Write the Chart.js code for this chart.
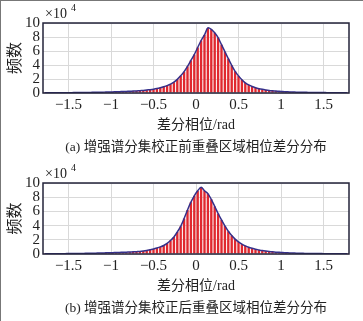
<!DOCTYPE html>
<html>
<head>
<meta charset="utf-8">
<script src="https://cdn.jsdelivr.net/npm/chart.js@4"></script>
<style>
  body { margin: 0; background: #fff; }
  #wrap { position: relative; width: 363px; height: 321px; overflow: hidden; }
  canvas { position: absolute; left: 0; }
  #c1 { top: 0; }
  #c2 { top: 160px; }
  .edge { position: absolute; background: #777; }
</style>
</head>
<body>
<div id="wrap">
  <canvas id="c1" width="363" height="160"></canvas>
  <canvas id="c2" width="363" height="161"></canvas>
  <div class="edge" style="left:0;top:0;width:1px;height:321px"></div>
  <div class="edge" style="left:0;top:0;width:363px;height:1px"></div>
</div>
<script>
// bin centres (rad)
var bins = [
  -1.78,-1.74,-1.70,-1.66,-1.62,-1.58,-1.54,-1.50,-1.46,-1.42,
  -1.38,-1.34,-1.30,-1.26,-1.22,-1.18,-1.14,-1.10,-1.06,-1.02,
  -0.98,-0.94,-0.90,-0.86,-0.82,-0.78,-0.74,-0.70,-0.66,-0.62,
  -0.58,-0.54,-0.50,-0.46,-0.42,-0.38,-0.34,-0.30,-0.26,-0.22,
  -0.18,-0.14,-0.10,-0.06,-0.02,0.02,0.06,0.10,0.14,0.18,
  0.22,0.26,0.30,0.34,0.38,0.42,0.46,0.50,0.54,0.58,
  0.62,0.66,0.70,0.74,0.78,0.82,0.86,0.90,0.94,0.98,
  1.02,1.06,1.10,1.14,1.18,1.22,1.26,1.30,1.34,1.38,
  1.42,1.46,1.50,1.54,1.58,1.62,1.66,1.70,1.74,1.78
];

// counts (x10^4) before correction
var countsBefore = [
  0.03,0.03,0.03,0.04,0.04,0.04,0.05,0.05,0.05,0.06,
  0.06,0.07,0.07,0.08,0.09,0.10,0.11,0.12,0.13,0.14,
  0.16,0.17,0.19,0.21,0.23,0.25,0.27,0.30,0.33,0.37,
  0.42,0.48,0.55,0.64,0.76,0.90,1.06,1.26,1.55,1.95,
  2.45,3.05,3.8,4.65,5.5,6.5,7.5,8.3,9.3,9.1,
  8.6,7.9,6.9,5.9,4.9,3.95,3.1,2.45,1.9,1.45,
  1.15,0.92,0.75,0.62,0.52,0.44,0.37,0.32,0.28,0.24,
  0.21,0.18,0.16,0.14,0.12,0.11,0.10,0.09,0.08,0.07,
  0.07,0.06,0.06,0.05,0.05,0.04,0.04,0.04,0.03,0.03
];

// counts (x10^4) after correction
var countsAfter = [
  0.03,0.03,0.04,0.04,0.04,0.05,0.05,0.06,0.06,0.07,
  0.07,0.08,0.09,0.10,0.11,0.12,0.13,0.14,0.16,0.17,
  0.19,0.20,0.22,0.24,0.26,0.28,0.30,0.33,0.36,0.42,
  0.50,0.60,0.70,0.84,1.0,1.2,1.5,1.9,2.4,3.1,
  3.9,5.0,6.2,7.3,8.2,8.9,9.4,8.9,8.5,7.7,
  6.7,5.7,4.8,3.95,3.2,2.6,2.1,1.7,1.4,1.15,
  0.95,0.8,0.67,0.57,0.48,0.41,0.35,0.30,0.26,0.23,
  0.20,0.17,0.15,0.13,0.12,0.10,0.09,0.08,0.08,0.07,
  0.06,0.06,0.05,0.05,0.04,0.04,0.04,0.03,0.03,0.03
];

var captions = [
  '(a) 增强谱分集校正前重叠区域相位差分分布',
  '(b) 增强谱分集校正后重叠区域相位差分分布'
];

Chart.defaults.font.family = '"Liberation Serif", "Noto Sans CJK SC", serif';
Chart.defaults.color = '#222';

var framePlugin = {
  id: 'frame',
  afterDatasetsDraw: function(chart) {
    var a = chart.chartArea, ctx = chart.ctx;
    ctx.save();
    ctx.strokeStyle = '#23233a';
    ctx.lineWidth = 1.5;
    ctx.strokeRect(a.left, a.top, a.right - a.left, a.bottom - a.top);
    // x10^4 exponent label
    ctx.fillStyle = '#222';
    ctx.textBaseline = 'alphabetic';
    ctx.font = '14px "Liberation Serif"';
    ctx.fillText('×10', a.left + 2, a.top - 5);
    ctx.font = '10px "Liberation Serif"';
    ctx.fillText('4', a.left + 28, a.top - 12);
    ctx.restore();
  }
};

function makeChart(id, values, caption) {
  var pts = bins.map(function(b, i) { return { x: b, y: values[i] }; });
  return new Chart(document.getElementById(id), {
    type: 'bar',
    data: {
      datasets: [{
        type: 'line',
        data: pts,
        borderColor: '#35308a',
        borderWidth: 1.5,
        pointRadius: 0,
        tension: 0.3,
        order: 0
      }, {
        data: pts,
        backgroundColor: '#e0282f',
        categoryPercentage: 1,
        barPercentage: 0.7,
        order: 1
      }]
    },
    options: {
      responsive: false,
      animation: false,
      layout: { padding: { left: 0, right: 14, top: 23, bottom: 0 } },
      plugins: {
        legend: { display: false },
        tooltip: { enabled: false },
        title: {
          display: true,
          text: caption,
          position: 'bottom',
          fullSize: false,
          font: { size: 13.5, weight: 'normal' },
          padding: { top: 4, bottom: 4 }
        }
      },
      scales: {
        x: {
          type: 'linear',
          offset: false,
          min: -1.8,
          max: 1.8,
          afterFit: function(s) { s.height = 42.8; },
          grid: { color: '#d9d9d9', drawTicks: false, offset: false },
          border: { display: false },
          ticks: {
            stepSize: 0.5,
            includeBounds: false,
            autoSkip: false,
            maxRotation: 0,
            padding: 3,
            font: { size: 15 },
            callback: function(v) { return String(v).replace('-', '−'); }
          },
          title: {
            display: true,
            text: '差分相位/rad',
            font: { size: 14 },
            padding: { top: 0, bottom: 2 }
          }
        },
        y: {
          min: 0,
          max: 10,
          afterFit: function(s) { s.width = 43; },
          grid: { color: '#d9d9d9', drawTicks: false },
          border: { display: false },
          ticks: { stepSize: 2, autoSkip: false, padding: 3, font: { size: 15 } },
          title: {
            display: true,
            text: '频数',
            font: { size: 16 },
            padding: { top: 6, bottom: 0 }
          }
        }
      }
    },
    plugins: [framePlugin]
  });
}

makeChart('c1', countsBefore, captions[0]);
makeChart('c2', countsAfter, captions[1]);
</script>
</body>
</html>
